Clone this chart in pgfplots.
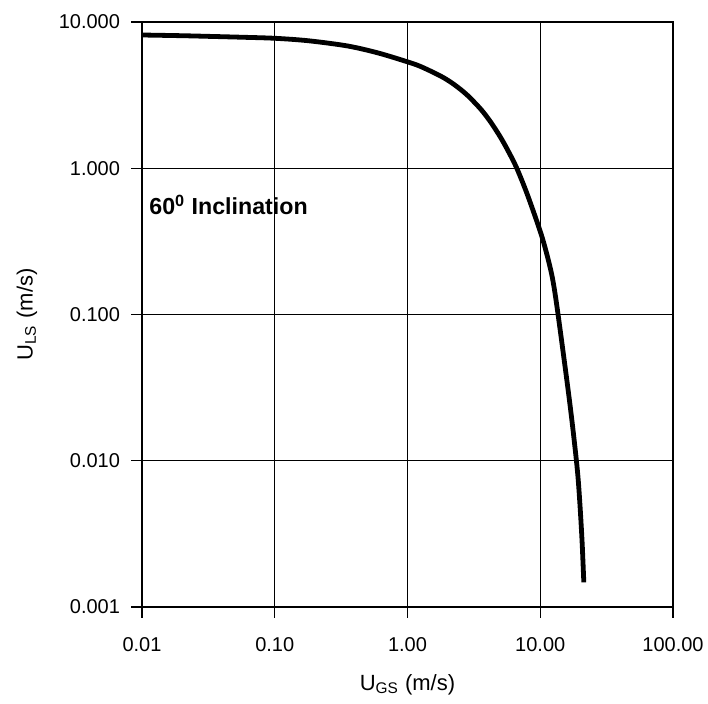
\documentclass[border=0pt]{standalone}
\usepackage{fontspec}
\setmainfont{Liberation Sans}
\usepackage{pgfplots}
\pgfplotsset{compat=1.18}
\begin{document}
\begin{tikzpicture}
\begin{axis}[
  name=ax,
  scale only axis,
  width=265.5pt, height=292.5pt,
  xmode=log, ymode=log,
  xmin=0.01, xmax=100, ymin=0.001, ymax=10,
  xtick={0.01,0.1,1,10,100},
  xticklabels={0.01,0.10,1.00,10.00,100.00},
  ytick={0.001,0.01,0.1,1,10},
  yticklabels={0.001,0.010,0.100,1.000,10.000},
  xminorticks=false, yminorticks=false,
  /pgf/number format/assume math mode=true,
  tick align=outside,
  tickwidth=5.5pt,
  major tick length=5.5pt,
  tick style={black, line width=0.6pt},
  xtick pos=bottom, ytick pos=left,
  grid=major,
  major grid style={black, line width=0.45pt},
  axis line style={black, line width=0.6pt},
  ticklabel style={font=\fontsize{10}{12}\selectfont},
  xticklabel style={yshift=-6pt},
  yticklabel style={xshift=-2pt},
  xlabel={U\textsubscript{GS} (m/s)},
  ylabel={U\textsubscript{LS} (m/s)},
  label style={font=\fontsize{11}{13}\selectfont},
  xlabel style={at={(axis description cs:0.5,-0.1333)}, anchor=center},
  ylabel style={at={(axis description cs:-0.2166,0.5)}, anchor=center},
]
\addplot[black, line width=2.4pt, smooth, tension=0.5] coordinates {
(0.01,8.15) (0.02,8.06) (0.0316,7.98) (0.0562,7.87) (0.1,7.74)
(0.178,7.45) (0.353,6.86) (0.6,6.145) (1.0,5.34) (1.257,4.96)
(1.777,4.27) (2.227,3.758) (2.79,3.19) (3.555,2.542) (4.227,2.073)
(5.027,1.625) (5.774,1.296) (6.633,1.008) (8.025,0.655) (10.23,0.3469)
(11.75,0.218) (12.6,0.1607) (13.61,0.1005) (15.97,0.03393) (17.41,0.0181) (18.76,0.00986)
(19.42,0.00698) (20.1,0.004356) (20.7,0.002694) (21.29,0.001474)
};
\node[anchor=west, font=\fontsize{11.6}{13}\selectfont\bfseries, inner sep=0pt] at (axis cs:0.0113,0.56) {60\textsuperscript{0} Inclination};
\end{axis}
\pgfresetboundingbox
\path ([shift={(-71pt,-48pt)}]ax.south west) rectangle ([shift={(17.5pt,11pt)}]ax.north east);
\end{tikzpicture}
\end{document}
